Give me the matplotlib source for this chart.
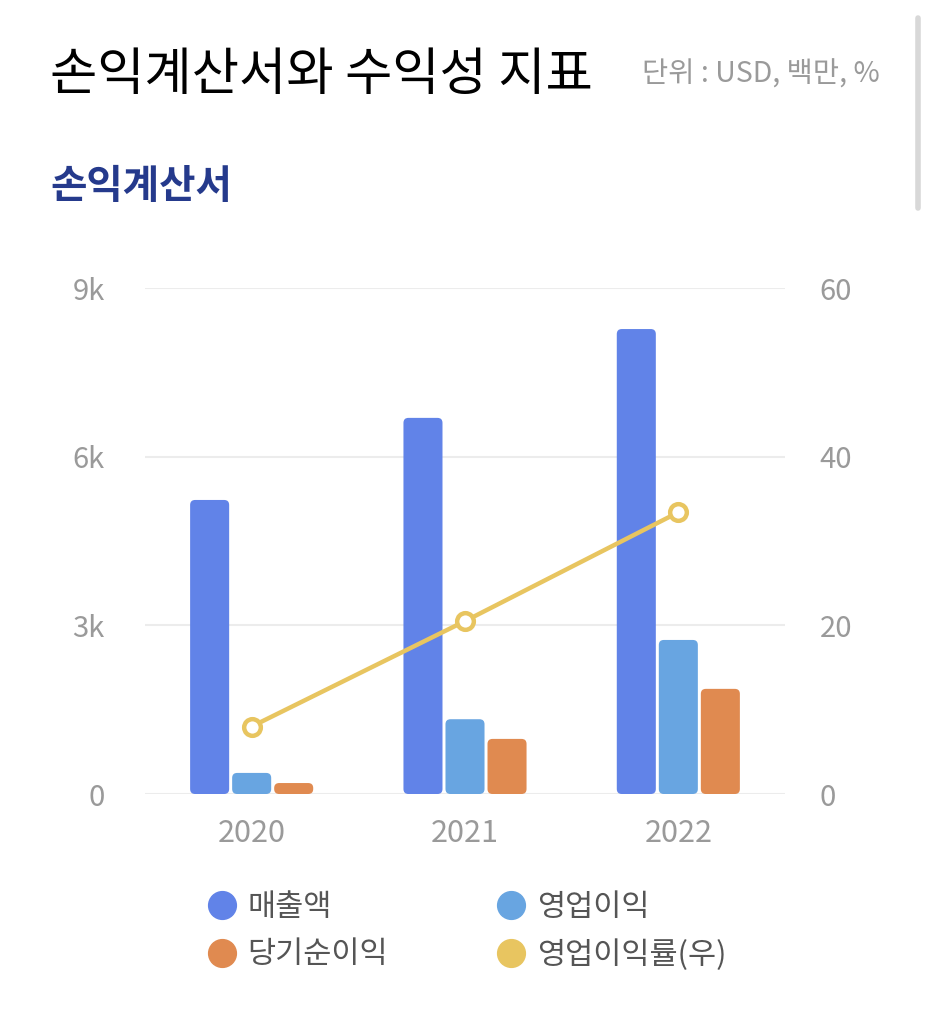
import matplotlib
matplotlib.use("Agg")
import matplotlib.pyplot as plt
from matplotlib.patches import FancyBboxPatch
from matplotlib.lines import Line2D
import numpy as np

plt.rcParams['font.family'] = ['Noto Sans CJK KR', 'DejaVu Sans']

# data (USD millions, %)
years = ["2020", "2021", "2022"]
sales = [5230, 6690, 8270]
op_income = [375, 1330, 2740]
net_income = [195, 980, 1870]
op_margin = [8.0, 20.5, 33.4]

c_sales = "#6183e8"
c_op = "#68a5e1"
c_net = "#e08a50"
c_line = "#e8c560"
gray = "#9a9a9a"

fig = plt.figure(figsize=(9.31, 10.24), dpi=100)
ax = fig.add_axes([145/931, 1 - 794/1024, 640/931, 506/1024])
ax2 = ax.twinx()

x = np.arange(len(years))
w = 0.183
step = 0.197

bars = []
for off, vals, col in [(-step, sales, c_sales), (0, op_income, c_op), (step, net_income, c_net)]:
    bars.append((ax.bar(x + off, vals, width=w, color=col, zorder=3), col))

ax.set_xlim(-0.5, 2.5)
ax.set_ylim(0, 9000)
ax2.set_ylim(0, 60)

# swap square bars for rounded ones
xpp = 3.0 / 640
ypp = 9000.0 / 506
for cont, col in bars:
    for r in cont:
        r.set_visible(False)
        fb = FancyBboxPatch((r.get_x(), 0), r.get_width(), r.get_height(),
                            boxstyle="round,pad=0,rounding_size=%f" % (5 * xpp),
                            mutation_aspect=ypp / xpp, facecolor=col, edgecolor="none", zorder=3)
        ax.add_patch(fb)

ax2.plot(x, op_margin, color=c_line, lw=3.2, marker="o", markersize=12,
         markerfacecolor="white", markeredgecolor=c_line, markeredgewidth=3.2, zorder=5)

ax.set_yticks([0, 3000, 6000, 9000])
ax.set_yticklabels(["0", "3k", "6k", "9k"])
ax2.set_yticks([0, 20, 40, 60])
ax.set_xticks(x)
ax.set_xticklabels(years)
ax.grid(axis="y", color="#ececec", lw=1.5, zorder=0)
for a in (ax, ax2):
    for s in a.spines.values():
        s.set_visible(False)
ax.tick_params(axis="y", length=0, pad=29, labelsize=21, labelcolor=gray)
ax.tick_params(axis="x", length=0, pad=17, labelsize=22, labelcolor=gray)
ax2.tick_params(axis="y", length=0, pad=25, labelsize=21, labelcolor=gray)
ax.set_zorder(ax2.get_zorder() - 1)
ax2.patch.set_visible(False)

# headings
fig.text(50/931, 1 - 75/1024, "손익계산서와 수익성 지표", fontsize=37, fontweight="medium",
         color="black", va="center", ha="left")
fig.text(880/931, 1 - 75/1024, "단위 : USD, 백만, %", fontsize=20.5, color=gray,
         va="center", ha="right", fontweight="light")
fig.text(50/931, 1 - 187/1024, "손익계산서", fontsize=28.5, fontweight="bold",
         color="#253a8c", va="center", ha="left")

# scrollbar
fig.add_artist(Line2D([918/931, 918/931], [1 - 18/1024, 1 - 208/1024], color="#d8d8d8",
                      lw=4, solid_capstyle="round"))

handles = [Line2D([], [], ls="none", marker="o", markersize=20, color=c)
           for c in (c_sales, c_net, c_op, c_line)]
labels = ["매출액", "당기순이익", "영업이익", "영업이익률(우)"]
fig.legend(handles, labels, ncol=2, loc="upper left", bbox_to_anchor=(179/931, 1 - 864/1024),
           frameon=False, fontsize=22, labelcolor="#555555", handletextpad=0.35,
           columnspacing=3.5, labelspacing=0.55, handlelength=1.0)

fig.savefig("out.png", dpi=100, facecolor="white")
